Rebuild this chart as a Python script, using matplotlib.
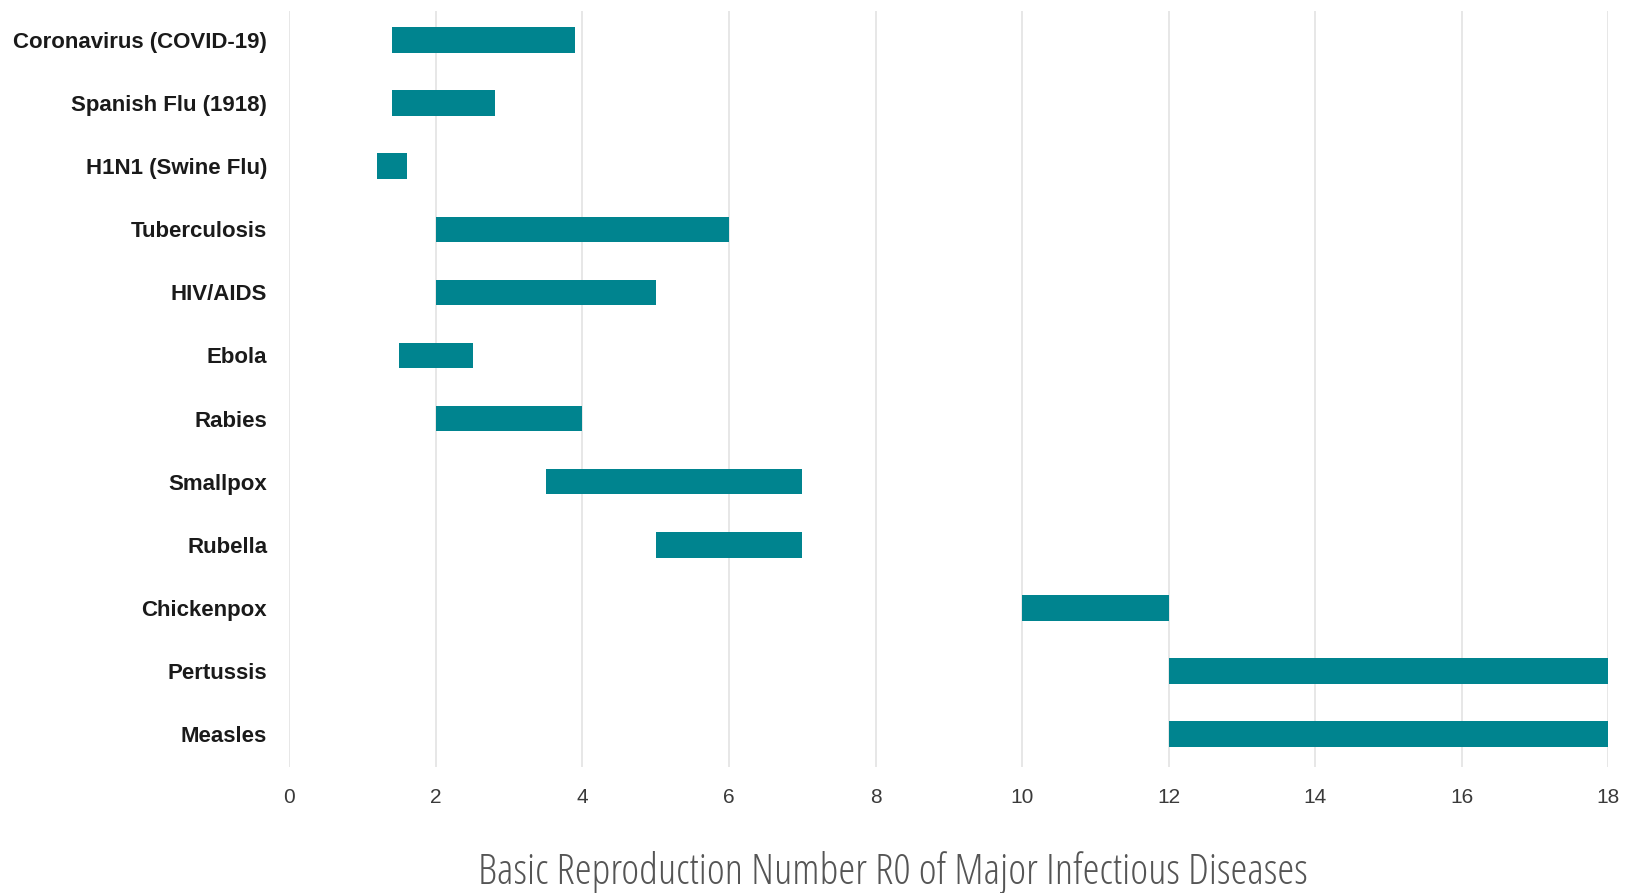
import matplotlib
matplotlib.use("Agg")
import matplotlib.pyplot as plt

diseases = ["Coronavirus (COVID-19)", "Spanish Flu (1918)", "H1N1 (Swine Flu)",
            "Tuberculosis", "HIV/AIDS", "Ebola", "Rabies", "Smallpox", "Rubella",
            "Chickenpox", "Pertussis", "Measles"]
r0_low = [1.4, 1.4, 1.2, 2.0, 2.0, 1.5, 2.0, 3.5, 5.0, 10.0, 12.0, 12.0]
r0_high = [3.9, 2.8, 1.6, 6.0, 5.0, 2.5, 4.0, 7.0, 7.0, 12.0, 18.0, 18.0]
x_ticks = [0, 2, 4, 6, 8, 10, 12, 14, 16, 18]
title = "Basic Reproduction Number R0 of Major Infectious Diseases"

lab_fam = ["Liberation Sans", "DejaVu Sans"]
title_fam = ["Open Sans", "DejaVu Sans"]

fig = plt.figure(figsize=(16.26, 8.93), dpi=100)
ax = fig.add_axes([0.178, 0.141, 0.811, 0.847])

ypos = list(range(len(diseases)))
widths = [h - l for l, h in zip(r0_low, r0_high)]
ax.barh(ypos, widths, left=r0_low, height=0.41, color="#00848F", zorder=3)

ax.set_xlim(0, 18)
ax.set_ylim(len(diseases) - 0.47, -0.47)
ax.set_xticks(x_ticks)
ax.set_xticklabels([str(t) for t in x_ticks], family=lab_fam,
                   fontsize=15, color="#3a3a3a")
ax.set_yticks(ypos)
ax.set_yticklabels(diseases, family=lab_fam, fontsize=16,
                   fontweight="bold", color="#1a1a1a")
ax.tick_params(axis="both", length=0)
ax.tick_params(axis="x", pad=15)
ax.tick_params(axis="y", pad=16)
ax.grid(axis="x", color="#e3e3e3", linewidth=1.2, zorder=0)
for s in ax.spines.values():
    s.set_visible(False)

fig.text(0.549, 0.010, title, ha="center", va="baseline",
         family=title_fam, fontweight="light",
         fontstretch="condensed", fontsize=31, color="#555555")

fig.savefig("out.png", dpi=100, facecolor="white")
